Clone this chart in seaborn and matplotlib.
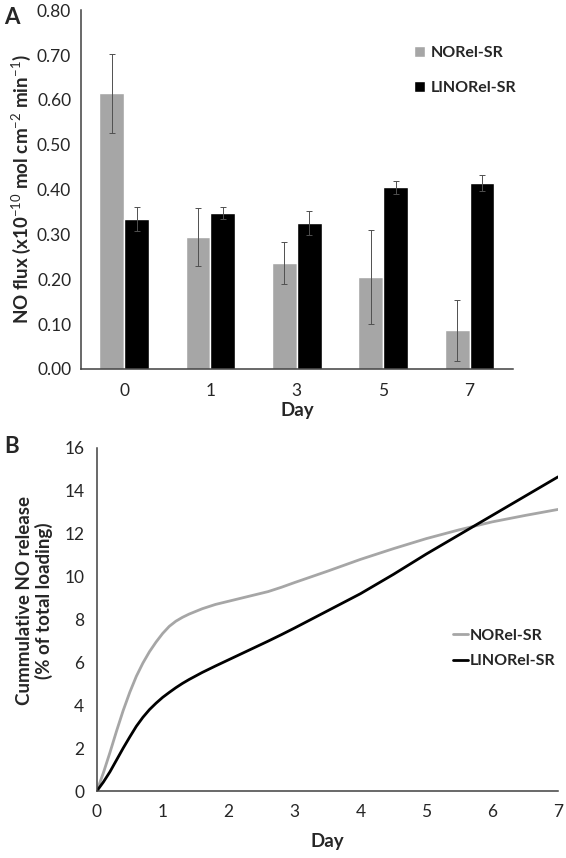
import numpy as np
import pandas as pd
import matplotlib
matplotlib.use("Agg")
import matplotlib.pyplot as plt
import seaborn as sns

# Panel A - NO flux per day (x10^-10 mol cm^-2 min^-1)
days_a = ["0", "1", "3", "5", "7"]
norel_flux = [0.615, 0.295, 0.237, 0.205, 0.086]
norel_err = [0.088, 0.065, 0.047, 0.105, 0.068]
linorel_flux = [0.335, 0.348, 0.325, 0.405, 0.415]
linorel_err = [0.027, 0.014, 0.027, 0.015, 0.018]

# Panel B - cumulative NO release (% of total loading)
days_b = [0, 0.1, 0.2, 0.3, 0.4, 0.5, 0.6, 0.7, 0.8, 0.9, 1.0, 1.1, 1.2, 1.3, 1.4,
          1.6, 1.8, 2.0, 2.2, 2.4, 2.6, 2.8, 3.0, 3.5, 4.0, 4.5, 5.0, 5.5, 6.0,
          6.5, 7.0]
cum_norel = [0, 0.85, 1.8, 2.8, 3.75, 4.6, 5.35, 5.97, 6.5, 6.95, 7.35, 7.68,
             7.92, 8.1, 8.25, 8.5, 8.7, 8.85, 9.0, 9.15, 9.3, 9.5, 9.72, 10.25,
             10.8, 11.3, 11.77, 12.18, 12.55, 12.85, 13.13]
cum_linorel = [0, 0.42, 0.9, 1.45, 2.0, 2.52, 3.02, 3.44, 3.8, 4.1, 4.37, 4.6,
               4.82, 5.02, 5.2, 5.53, 5.83, 6.12, 6.41, 6.7, 6.99, 7.29, 7.6,
               8.4, 9.2, 10.1, 11.05, 11.95, 12.85, 13.75, 14.65]

GREY = "#a6a6a6"
BLACK = "#000000"
AXC = "#404040"

sns.set_style("white")
plt.rcParams["font.family"] = ["Lato", "DejaVu Sans"]
plt.rcParams["mathtext.fontset"] = "custom"
plt.rcParams["mathtext.rm"] = "Lato"
plt.rcParams["mathtext.bf"] = "Lato:bold"

fig = plt.figure(figsize=(5.66, 8.58), dpi=100)
ax1 = fig.add_axes([0.143, 0.570, 0.763, 0.418])
ax2 = fig.add_axes([0.171, 0.078, 0.815, 0.400])

# ---- Panel A
df_a = pd.DataFrame({
    "day": days_a * 2,
    "flux": norel_flux + linorel_flux,
    "group": ["NORel-SR"] * 5 + ["LINORel-SR"] * 5,
})
sns.barplot(data=df_a, x="day", y="flux", hue="group", order=days_a,
            hue_order=["NORel-SR", "LINORel-SR"], palette=[GREY, BLACK],
            width=0.575, errorbar=None, ax=ax1, saturation=1)

errs = norel_err + linorel_err
vals = norel_flux + linorel_flux
for p, v, e in zip(ax1.patches[:10], vals, errs):
    cx = p.get_x() + p.get_width() / 2
    ax1.errorbar(cx, v, yerr=e, fmt="none", ecolor="#505050", elinewidth=0.7,
                 capsize=2, capthick=0.7)

ax1.set_xlim(-0.5, 4.5)
ax1.set_ylim(0, 0.8)
ax1.set_yticks(np.arange(0, 0.81, 0.1))
ax1.set_yticklabels([f"{t:.2f}" for t in np.arange(0, 0.81, 0.1)], fontsize=12.5)
ax1.set_xticks(np.arange(-0.5, 4.6, 1.0))
ax1.set_xticklabels([])
ax1.set_xticks(range(5), minor=True)
ax1.set_xticklabels(days_a, minor=True, fontsize=12.5)
ax1.tick_params(axis="x", which="major", length=5, width=1, color=AXC, direction="out")
ax1.tick_params(axis="x", which="minor", length=0, pad=10)
ax1.tick_params(axis="y", length=4, width=1, color=AXC, direction="out", pad=3)
ax1.set_xlabel("Day", fontsize=13.5, fontweight="bold", labelpad=2)
ax1.set_ylabel(r"NO flux (x10$^{-10}$ mol cm$^{-2}$ min$^{-1}$)", fontsize=13.5,
               fontweight="bold", labelpad=3)
for s in ["top", "right"]:
    ax1.spines[s].set_visible(False)
for s in ["left", "bottom"]:
    ax1.spines[s].set_color(AXC)
    ax1.spines[s].set_linewidth(1.1)
ax1.legend(loc="upper left", bbox_to_anchor=(0.737, 0.94), frameon=False,
           handlelength=0.7, handleheight=0.7, handletextpad=0.4,
           labelspacing=1.3, prop={"weight": "bold", "size": 11.5})
fig.text(0.008, 0.972, "A", fontsize=16, fontweight="bold")

# ---- Panel B
df_b = pd.concat([
    pd.DataFrame({"day": days_b, "cum": cum_norel, "group": "NORel-SR"}),
    pd.DataFrame({"day": days_b, "cum": cum_linorel, "group": "LINORel-SR"}),
])
sns.lineplot(data=df_b, x="day", y="cum", hue="group",
             hue_order=["NORel-SR", "LINORel-SR"], palette=[GREY, BLACK],
             linewidth=2, ax=ax2, estimator=None, sort=True)
ax2.set_xlim(0, 7)
ax2.set_ylim(0, 16)
ax2.set_xticks(range(8))
ax2.set_yticks(range(0, 17, 2))
ax2.tick_params(axis="both", labelsize=12.5, length=4, width=1, color=AXC,
                direction="out", pad=5)
ax2.set_xlabel("Day", fontsize=13.5, fontweight="bold", labelpad=10)
ax2.set_ylabel("Cummulative NO release\n(% of total loading)", fontsize=13.5,
               fontweight="bold", linespacing=1.1)
ax2.yaxis.set_label_coords(-0.095, 0.556)
for s in ["top", "right"]:
    ax2.spines[s].set_visible(False)
for s in ["left", "bottom"]:
    ax2.spines[s].set_color(AXC)
    ax2.spines[s].set_linewidth(1.1)
ax2.legend(loc="upper left", bbox_to_anchor=(0.74, 0.515), frameon=False,
           handlelength=1.0, handletextpad=0.1, labelspacing=0.7,
           prop={"weight": "bold", "size": 11.5})
fig.text(0.008, 0.472, "B", fontsize=16, fontweight="bold")

fig.savefig("out.png", dpi=100)
